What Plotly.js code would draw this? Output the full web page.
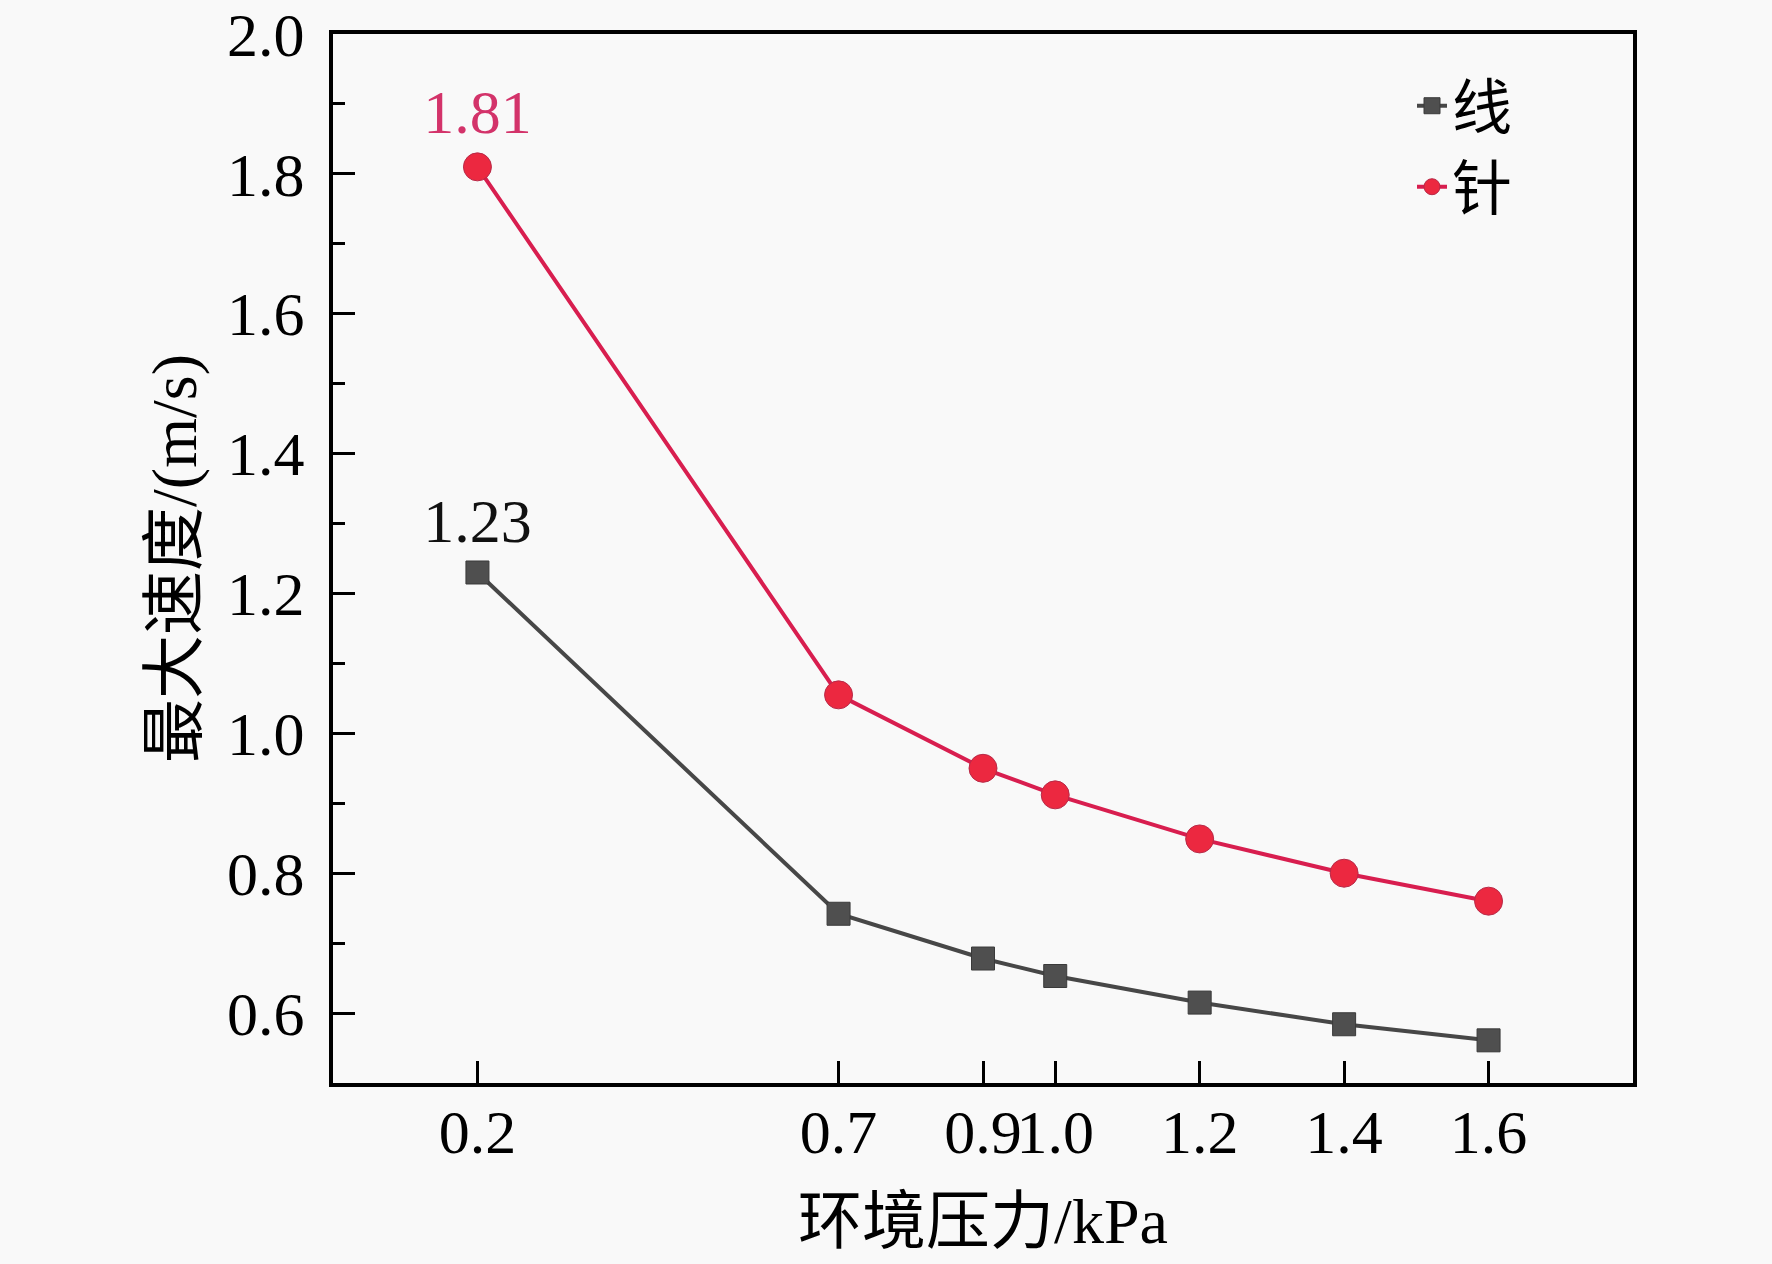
<!DOCTYPE html>
<html>
<head>
<meta charset="utf-8">
<script src="https://cdn.plot.ly/plotly-3.0.1.min.js"></script>
<style>
  body { margin: 0; background: #f9f9f9; }
  #chart { width: 1772px; height: 1264px; }
</style>
</head>
<body>
<div id="chart"></div>
<script>
// pressure (kPa) and peak speed (m/s)
var pressure = [0.2, 0.7, 0.9, 1.0, 1.2, 1.4, 1.6]
var speed_wire = [1.23, 0.742, 0.678, 0.653, 0.615, 0.584, 0.561]
var speed_needle = [1.81, 1.055, 0.950, 0.912, 0.849, 0.800, 0.760]
var label_wire = ['1.23', '', '', '', '', '', '']
var label_needle = ['1.81', '', '', '', '', '', '']
var x_ticks = [0.2, 0.7, 0.9, 1.0, 1.2, 1.4, 1.6]
var x_tick_text = ['0.2', '0.7', '0.9', '1.0', '1.2', '1.4', '1.6']

var font_family = '"Liberation Serif", "Times New Roman", "Noto Sans CJK SC", serif'

var wire = {
    x: pressure,
    y: speed_wire,
    text: label_wire,
    mode: 'lines+markers+text',
    type: 'scatter',
    name: '线',
    textposition: 'top center',
    textfont: {size: 62, color: '#111111', family: font_family},
    line: {color: '#474747', width: 4},
    marker: {symbol: 'square', size: 23, color: '#4f4f4f',
             line: {color: '#3a3a3a', width: 1}},
    cliponaxis: false
}

var needle = {
    x: pressure,
    y: speed_needle,
    text: label_needle,
    mode: 'lines+markers+text',
    type: 'scatter',
    name: '针',
    textposition: 'top center',
    textfont: {size: 62, color: '#d3336a', family: font_family},
    line: {color: '#d81e4f', width: 4},
    marker: {symbol: 'circle', size: 28, color: '#ec2840',
             line: {color: '#b82a48', width: 1}},
    cliponaxis: false
}

var axis_common = {
    showline: true,
    mirror: true,
    linecolor: '#000000',
    linewidth: 4,
    ticks: 'inside',
    ticklen: 22,
    tickwidth: 3,
    tickcolor: '#000000',
    showgrid: false,
    zeroline: false,
    tickfont: {size: 62, color: '#000000', family: font_family}
}

var layout = {
    width: 1772,
    height: 1264,
    paper_bgcolor: '#f9f9f9',
    plot_bgcolor: '#f9f9f9',
    margin: {l: 333, r: 139, t: 34, b: 181},
    font: {family: font_family, color: '#000000'},
    xaxis: Object.assign({}, axis_common, {
        range: [0, 1.8],
        tickmode: 'array',
        tickvals: x_ticks,
        ticktext: x_tick_text,
        tickangle: 0,
        ticklabelstandoff: -8,
        title: {text: '环境压力/kPa', font: {size: 64, family: font_family}, standoff: 34}
    }),
    yaxis: Object.assign({}, axis_common, {
        range: [0.5, 2.0],
        dtick: 0.2,
        tick0: 0.6,
        tickformat: '.1f',
        ticklabelstandoff: 12,
        minor: {dtick: 0.1, ticks: 'inside', ticklen: 12, tickwidth: 3, tickcolor: '#000000'},
        title: {text: '最大速度/(m/s)', font: {size: 64, family: font_family}, standoff: 11}
    }),
    showlegend: true,
    legend: {
        x: 0.83, y: 0.975,
        xanchor: 'left', yanchor: 'top',
        bgcolor: 'rgba(0,0,0,0)',
        font: {size: 60, family: font_family},
        itemwidth: 30,
        tracegroupgap: 0
    }
}

Plotly.newPlot('chart', [wire, needle], layout, {displayModeBar: false})
</script>
</body>
</html>
